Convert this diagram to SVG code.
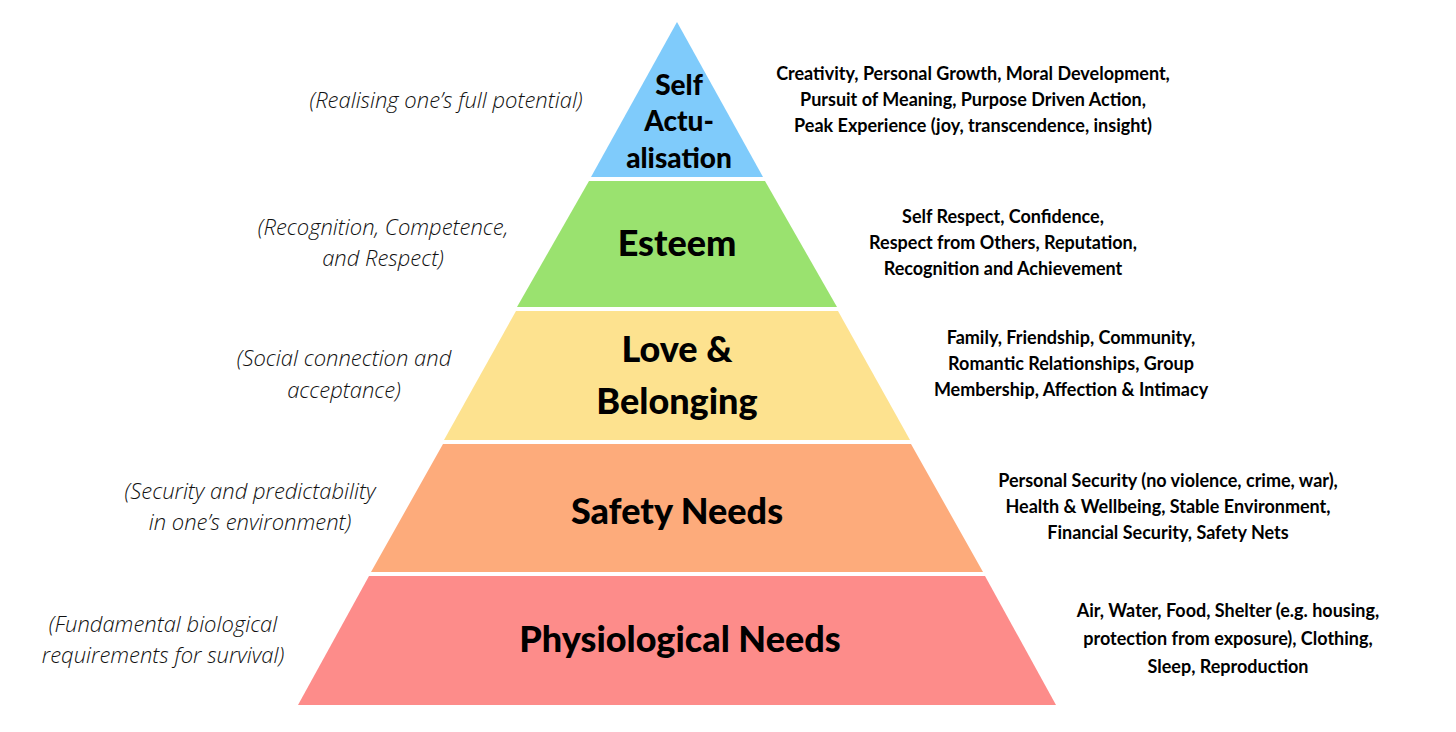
<svg xmlns="http://www.w3.org/2000/svg" width="1456" height="732" viewBox="0 0 1456 732">
<style>
.t{font-family:"Lato","Noto Sans",sans-serif;font-weight:900;fill:#000;text-anchor:middle}
.d{font-family:"Lato","Noto Sans",sans-serif;font-weight:700;font-size:18px;fill:#000;text-anchor:middle}
.l{font-family:"Open Sans","Noto Sans",sans-serif;font-style:italic;font-weight:300;font-size:22px;fill:#111;text-anchor:middle}
</style>
<rect width="1456" height="732" fill="#fff"/>
<g id="self">
<polygon points="677,22 763,177 591,177" fill="#7fcbfb"/>
<text class="t" font-size="28" x="679" y="95">Self</text>
<text class="t" font-size="28" x="679" y="131">Actu-</text>
<text class="t" font-size="28" x="679" y="168">alisation</text>
<text class="d" x="973" y="80">Creativity, Personal Growth, Moral Development,</text>
<text class="d" x="973" y="106">Pursuit of Meaning, Purpose Driven Action,</text>
<text class="d" x="973" y="132">Peak Experience (joy, transcendence, insight)</text>
<text class="l" x="446" y="108">(Realising one’s full potential)</text>
</g>
<g id="esteem">
<polygon points="589,181 765,181 837,307 517,307" fill="#9ae26f"/>
<text class="t" font-size="36" x="677" y="256">Esteem</text>
<text class="d" x="1003" y="223">Self Respect, Confidence,</text>
<text class="d" x="1003" y="249">Respect from Others, Reputation,</text>
<text class="d" x="1003" y="275">Recognition and Achievement</text>
<text class="l" x="383" y="235">(Recognition, Competence,</text>
<text class="l" x="383" y="266">and Respect)</text>
</g>
<g id="love">
<polygon points="516,311 838,311 910,440 444,440" fill="#fde28f"/>
<text class="t" font-size="36" x="677" y="362">Love &amp;</text>
<text class="t" font-size="36" x="677" y="414">Belonging</text>
<text class="d" x="1071" y="344">Family, Friendship, Community,</text>
<text class="d" x="1071" y="370">Romantic Relationships, Group</text>
<text class="d" x="1071" y="396">Membership, Affection &amp; Intimacy</text>
<text class="l" x="344" y="366">(Social connection and</text>
<text class="l" x="344" y="398">acceptance)</text>
</g>
<g id="safety">
<polygon points="443,444 911,444 983,572 371,572" fill="#fdab7b"/>
<text class="t" font-size="36" x="677" y="524">Safety Needs</text>
<text class="d" x="1168" y="487">Personal Security (no violence, crime, war),</text>
<text class="d" x="1168" y="513">Health &amp; Wellbeing, Stable Environment,</text>
<text class="d" x="1168" y="539">Financial Security, Safety Nets</text>
<text class="l" x="250" y="499">(Security and predictability</text>
<text class="l" x="250" y="530">in one’s environment)</text>
</g>
<g id="physiological">
<polygon points="369,576 985,576 1056,705 298,705" fill="#fd8c8a"/>
<text class="t" font-size="36" x="680" y="652">Physiological Needs</text>
<text class="d" x="1228" y="617">Air, Water, Food, Shelter (e.g. housing,</text>
<text class="d" x="1228" y="645">protection from exposure), Clothing,</text>
<text class="d" x="1228" y="673">Sleep, Reproduction</text>
<text class="l" x="163" y="632">(Fundamental biological</text>
<text class="l" x="163" y="663">requirements for survival)</text>
</g>
<g id="connectors"/>
</svg>
